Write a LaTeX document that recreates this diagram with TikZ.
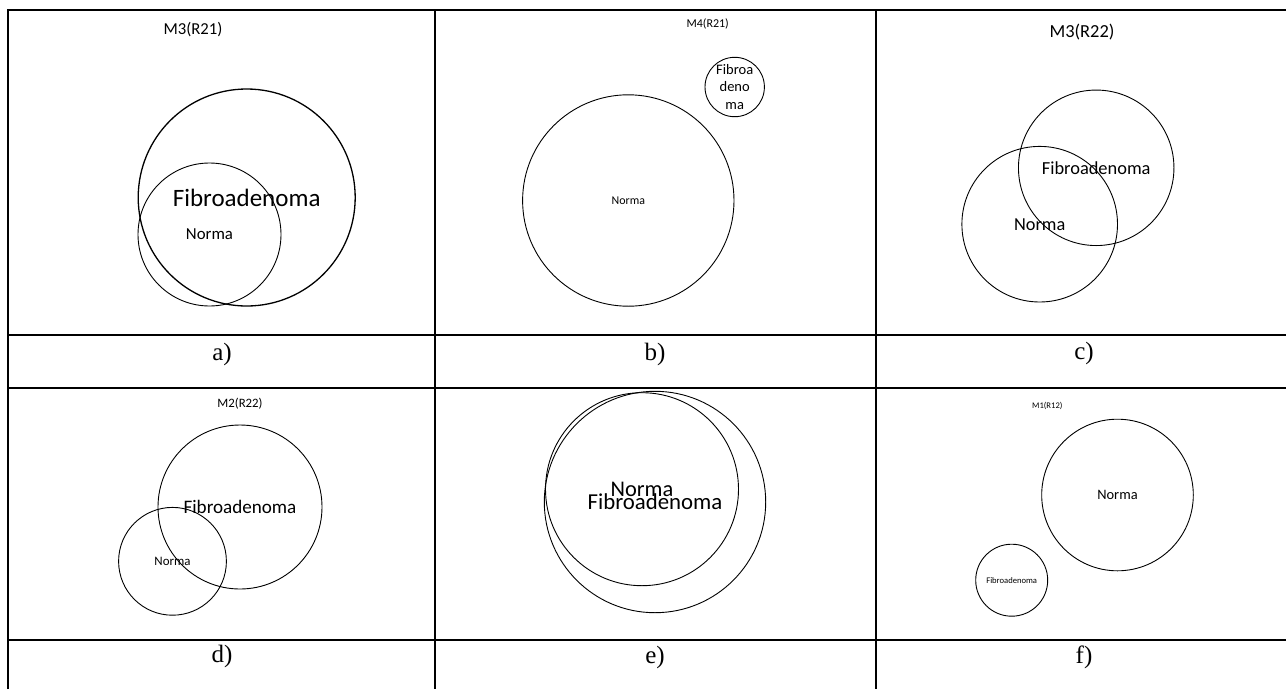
\documentclass[tikz,border=0pt]{standalone}
\usepackage{fontspec}
\setmainfont{Liberation Serif}
\newfontfamily\carlito{Carlito}
\newcommand{\cfs}[1]{\carlito\fontsize{#1}{1.22\dimexpr #1pt\relax}\selectfont}
\begin{document}
\begin{tikzpicture}[x=1pt, y=-1pt,
  rule/.style={line width=2pt},
  vset/.style={circle, draw, line width=0.9pt, inner sep=0pt, align=center},
  title/.style={inner sep=0pt},
  caption/.style={inner sep=0pt, font=\fontsize{25}{30}\selectfont}]
\useasboundingbox (0,0) rectangle (1286,689);
% table rules
\draw[rule] (8,689) -- (8,10) -- (1286,10);
\draw[rule] (435,10) -- (435,689);
\draw[rule] (876,10) -- (876,689);
\draw[rule] (8,335) -- (1286,335);
\draw[rule] (8,388) -- (1286,388);
\draw[rule] (8,640) -- (1286,640);
% a)
\node[title, font=\cfs{16.7}] (titleA) at (193,30) {M3(R21)};
\node[vset, line width=1.3pt, minimum size=217pt, font=\cfs{25}] (fibA) at (246.7,197.5) {Fibroadenoma};
\node[vset, minimum size=143pt, font=\cfs{16.8}] (normA) at (209.5,234.5) {Norma};
\node[caption] (capA) at (222,354) {a)};
% b)
\node[title, font=\cfs{12}] (titleB) at (707.7,24) {M4(R21)};
\node[vset, minimum size=211.4pt, font=\cfs{11.9}] (normB) at (628.3,200.5) {Norma};
\node[vset, minimum size=59.4pt, font=\carlito\fontsize{14.5}{17.7}\selectfont] (fibB) at (734.7,87) {Fibroa\\deno\\ma};
\node[caption] (capB) at (655,354) {b)};
% c)
\node[title, font=\cfs{18.4}] (titleC) at (1082,32) {M3(R22)};
\node[vset, minimum size=155.5pt, font=\cfs{18.4}] (fibC) at (1096.2,167.8) {Fibroadenoma};
\node[vset, minimum size=155.6pt, font=\cfs{18.3}] (normC) at (1039.7,224.2) {Norma};
\node[caption] (capC) at (1084,353) {c)};
% d)
\node[title, font=\cfs{12.8}] (titleD) at (240,404) {M2(R22)};
\node[vset, minimum size=164pt, font=\cfs{19.1}] (fibD) at (240,507) {Fibroadenoma};
\node[vset, minimum size=107.8pt, font=\cfs{12.9}] (normD) at (172.5,561.3) {Norma};
\node[caption] (capD) at (222,656) {d)};
% e)
\node[vset, minimum size=221.4pt, font=\cfs{22.8}] (fibE) at (655,502) {Fibroadenoma};
\node[vset, minimum size=193pt, font=\cfs{22.4}] (normE) at (642,489.2) {Norma};
\node[caption] (capE) at (655,657) {e)};
% f)
\node[title, font=\cfs{8.6}] (titleF) at (1047.3,405.7) {M1(R12)};
\node[vset, minimum size=151.6pt, font=\cfs{14.4}] (normF) at (1117.5,495) {Norma};
\node[vset, minimum size=72pt, font=\cfs{8.6}] (fibF) at (1011.7,580.2) {Fibroadenoma};
\node[caption] (capF) at (1084,657) {f)};
\end{tikzpicture}
\end{document}
